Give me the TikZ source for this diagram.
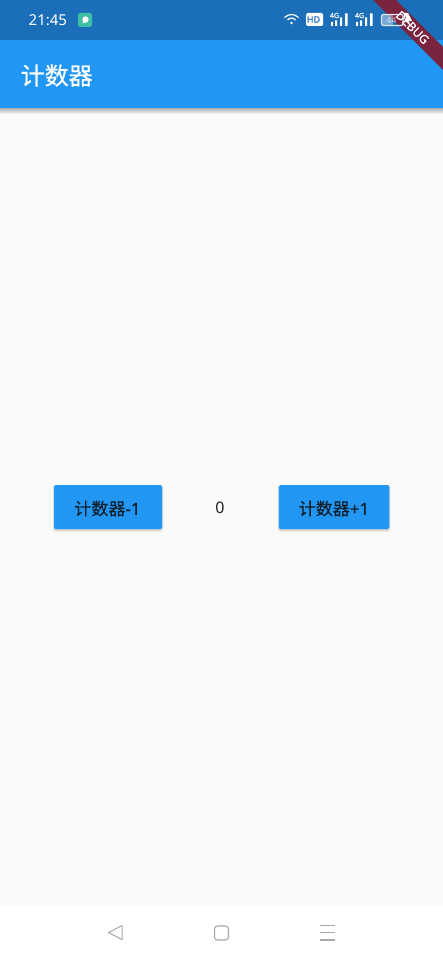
\documentclass[tikz,border=0pt]{standalone}
\usepackage{fontspec}
\setmainfont{Noto Sans}
\newfontfamily\cjk{Noto Sans CJK SC}[FakeBold=0.5]
\newfontfamily\cjkthick{Noto Sans CJK SC}[FakeBold=0.6]
\newfontfamily\latinmed{Noto Sans}[FakeBold=0.6]
\definecolor{barblue}{HTML}{2196F3}
\definecolor{statusblue}{HTML}{1A6FB8}
\definecolor{pagebg}{HTML}{FAFAFA}
\definecolor{bandred}{HTML}{7A2440}
\definecolor{btntext}{HTML}{12212E}
\definecolor{navgrey}{HTML}{A8A8A8}
\definecolor{zeroink}{HTML}{222222}
\definecolor{chatteal}{HTML}{3DBFA6}
\tikzset{
  x=1pt,y=-1pt,
  flat/.style={fill=#1,draw=none},
  btn/.style={flat=barblue,rounded corners=1.5pt},
  btnlabel/.style={text=btntext,inner sep=0pt,font=\fontsize{17}{17}\selectfont},
  navicon/.style={draw=navgrey,line width=1.1pt,fill=none},
  statustext/.style={text=white,inner sep=0pt},
}
\begin{document}
\begin{tikzpicture}
\useasboundingbox (0,0) rectangle (443,960);
% page areas
\fill[pagebg] (0,0) rectangle (443,960);
\fill[white] (0,906) rectangle (443,960);
\fill[statusblue] (0,0) rectangle (443,40);
% app bar shadow
\shade[top color=black!32,bottom color=pagebg] (0,108) rectangle (443,114);
\fill[barblue] (0,40) rectangle (443,108);
% debug banner
\fill[bandred] (373,0) -- (396,0) -- (443,47) -- (443,70) -- cycle;
\node[text=white,inner sep=0pt,rotate=-45,font=\fontsize{12}{12}\selectfont\latinmed] (debug) at (412.5,27.5) {DEBUG};
% status bar, left
\node[statustext,anchor=west,font=\fontsize{15}{15}\selectfont] (clock) at (28.5,20) {21:45};
\fill[rounded corners=2.5pt,fill=chatteal] (78,13) rectangle (92,27);
\fill[white] (85.5,19.5) circle (3.2pt);
\fill[white] (83,21) -- (82.5,23.5) -- (85,22.5) -- cycle;
% status bar, right: wifi
\draw[white,line width=1.2pt] (284.5,17.5) .. controls (289,13.5) and (294,13.5) .. (298.5,17.5);
\draw[white,line width=1.2pt] (287.5,20) .. controls (290,17.5) and (293,17.5) .. (295.5,20);
\fill[white] (291.5,23) circle (1.4pt);
% HD
\fill[white,rounded corners=1.5pt] (306,13) rectangle (323,26);
\node[text=statusblue,inner sep=0pt,font=\fontsize{9}{9}\selectfont\latinmed] (hd) at (313.5,19.5) {HD};
% signal 1
\node[statustext,font=\fontsize{7}{8}\selectfont\latinmed] (sigA) at (334.5,15.5) {4G};
\fill[white] (331,22) rectangle (333,26) (335,20.5) rectangle (337,26) (340,17.5) rectangle (342,26) (345,13.5) rectangle (347.5,26);
% signal 2
\node[statustext,font=\fontsize{7}{8}\selectfont\latinmed] (sigB) at (359.5,15.5) {4G};
\fill[white] (356,22) rectangle (358,26) (360,20.5) rectangle (362,26) (365,17.5) rectangle (367,26) (370,13.5) rectangle (372.5,26);
% battery
\fill[white,opacity=.4] (382,15) rectangle (393,25);
\draw[white!85!statusblue,line width=1.2pt,rounded corners=2pt] (381.5,14.5) rectangle (403,25.5);
\node[statustext,opacity=.7,font=\fontsize{8.5}{9}\selectfont] (batt) at (391.5,20) {44};
\fill[white] (403.5,13) -- (408,13) -- (412,21) -- (409,21) -- (410,26) -- (404,18.5) -- (406.5,18.5) -- cycle;
% title
\node[text=white,inner sep=0pt,anchor=west,font=\fontsize{24}{24}\selectfont\cjkthick] (title) at (20.5,75.5) {计数器};
% minus button
\fill[black,opacity=.06,rounded corners=3pt] (52.5,485) rectangle (163.5,532);
\fill[black,opacity=.12,rounded corners=2pt] (53.5,486) rectangle (162.5,530.5);
\node[btn,minimum width=108pt,minimum height=44pt,inner sep=0pt] (minus) at (108,507) {};
\node[btnlabel] (minuslabel) at (107.5,508.5) {{\cjk 计数器}{\latinmed -1}};
% count
\node[text=zeroink,inner sep=0pt,font=\fontsize{16}{16}\selectfont] (count) at (220,507.5) {0};
% plus button
\fill[black,opacity=.06,rounded corners=3pt] (277.5,485) rectangle (390.5,532);
\fill[black,opacity=.12,rounded corners=2pt] (278.5,486) rectangle (389.5,530.5);
\node[btn,minimum width=110.5pt,minimum height=44pt,inner sep=0pt] (plus) at (334,507) {};
\node[btnlabel] (pluslabel) at (334,508.5) {{\cjk 计数器}{\latinmed +1}};
% navigation bar
\draw[navgrey,line width=1pt,line join=round] (122,925.5) -- (108.5,932.5) -- (122,939.5) -- cycle;
\draw[navicon,rounded corners=3pt] (214.5,926) rectangle (228.5,940);
\draw[navicon] (320,925.5) -- (335,925.5) (320,932.8) -- (335,932.8) (320,940) -- (335,940);
\end{tikzpicture}
\end{document}
